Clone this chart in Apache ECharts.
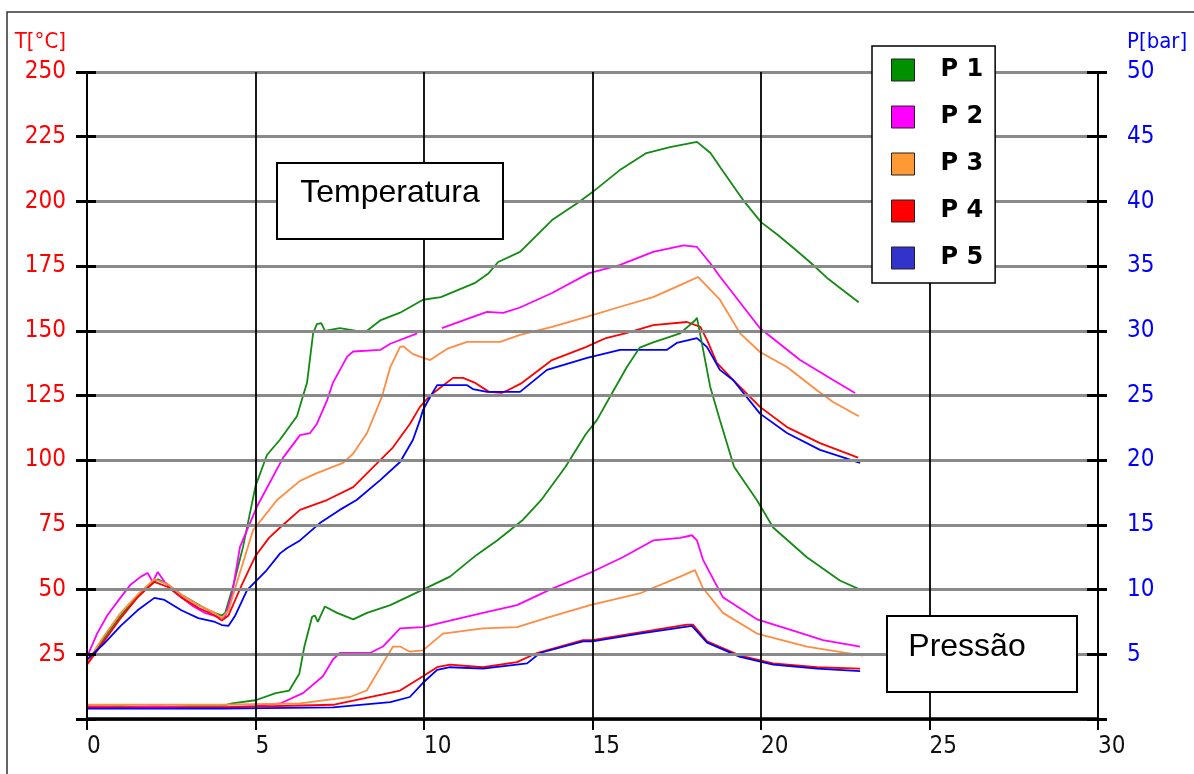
<!DOCTYPE html>
<html>
<head>
<meta charset="utf-8">
<script src="https://cdn.jsdelivr.net/npm/echarts@6/dist/echarts.min.js"></script>
<style>
html,body{margin:0;padding:0;background:#fff;}
#c{width:1194px;height:774px;}
</style>
</head>
<body>
<div id="c"></div>
<script>
// ---------- data (x = time, temperature in °C, pressure in bar) ----------
const seriesNames = ['P 1', 'P 2', 'P 3', 'P 4', 'P 5'];
const lineColors = ['#138a13', '#ff00ff', '#ff8c42', '#ff0000', '#0000ff'];
const legendColors = ['#009000', '#ff00ff', '#ff9933', '#ff0000', '#3333cc'];

const xTicks = [0, 5, 10, 15, 20, 25, 30];
const tTicks = [25, 50, 75, 100, 125, 150, 175, 200, 225, 250];
const pTicks = [5, 10, 15, 20, 25, 30, 35, 40, 45, 50];

const tempP1 = [[0,22],[0.3,27],[0.6,33],[1.0,40],[1.4,46],[1.8,51],[2.1,54],[2.4,52],[2.8,48],[3.2,45],[3.6,42],[4.0,40],[4.1,41],[4.35,52],[4.63,66.5],[5.0,90],[5.34,102],[5.73,108],[6.23,117],[6.53,130],[6.71,149],[6.82,152.6],[6.95,153],[7.06,150],[7.5,151],[8.0,150],[8.31,150],[8.7,154],[9.29,157],[9.97,162],[10.5,163],[11.0,165.7],[11.5,168.4],[11.9,172],[12.2,176.6],[12.85,180.5],[13.8,192.8],[14.6,199.8],[15.0,203.6],[15.8,212],[16.6,218.7],[17.3,221],[18.1,223],[18.5,218.7],[18.8,213],[19.5,200],[20.0,192],[20.5,187],[21.0,181.6],[21.5,176],[22.0,170],[22.5,165],[22.9,161]];
const tempP2 = [[0,24],[0.3,33],[0.6,40],[1.0,47],[1.3,52],[1.6,55],[1.8,56.4],[1.95,53],[2.1,56.8],[2.3,53],[2.7,48],[3.1,44],[3.5,41],[4.0,39],[4.1,39.5],[4.3,48],[4.54,66.5],[5.04,82],[5.82,101],[6.32,109.7],[6.62,110.5],[6.82,114],[7.12,123],[7.3,130],[7.72,140],[7.9,142],[8.7,142.6],[9.0,145],[9.8,149],[10.1,null],[10.53,151],[11.37,155],[11.87,157.3],[12.35,156.9],[12.85,159],[13.8,164.6],[14.9,172.3],[15.8,175.4],[16.8,180.5],[17.7,183],[18.1,182.4],[18.5,176],[18.78,171],[19.97,151],[21.16,138.7],[22.14,131],[22.79,126]];
const tempP3 = [[0,22],[0.5,32],[1.0,41],[1.5,48],[2.0,54],[2.4,52],[2.8,48],[3.3,44],[3.8,41],[4.0,39],[4.2,42],[4.5,55],[4.93,73],[5.64,84.6],[6.32,92],[6.82,95],[7.6,99],[7.9,102.6],[8.31,110.5],[8.75,124.5],[9.0,136],[9.29,143.8],[9.38,144],[9.67,141],[10.18,138.7],[10.68,143],[11.28,145.7],[12.26,145.7],[12.85,148.4],[13.8,151.5],[14.8,155.3],[15.8,159.2],[16.8,163],[17.8,168.8],[18.13,170.8],[18.28,168.8],[18.78,162],[19.38,149],[19.97,141.8],[20.77,136],[21.66,127],[22.14,122.5],[22.9,117]];
const tempP4 = [[0,21],[0.5,30],[1.0,39],[1.5,47],[2.0,53],[2.4,51],[2.8,47],[3.3,43],[3.8,40],[4.0,38],[4.2,40],[4.6,52],[5.0,63],[5.4,70],[5.73,74],[6.32,80.8],[7.12,84.6],[7.9,89.6],[8.5,97.4],[9.08,105],[9.58,114],[9.88,120.6],[10.18,125],[10.48,128],[10.86,131.8],[11.16,131.8],[11.5,130],[11.93,126.4],[12.3,126],[12.5,127.1],[12.9,129.8],[13.8,138.7],[14.8,143.7],[15.4,147.2],[16.0,149.1],[16.8,152.2],[17.8,153.4],[18.2,151.5],[18.4,146.4],[18.69,137.6],[19.17,131],[19.97,120.6],[20.77,112.8],[21.75,106.6],[22.88,101]];
const tempP5 = [[0,23],[0.5,29],[1.0,36],[1.5,42],[2.0,46.8],[2.3,46],[2.8,42],[3.3,39],[3.8,37.5],[4.0,36.3],[4.2,36],[4.4,40],[4.75,49.8],[5.3,57],[5.73,64],[5.93,66],[6.32,69],[6.91,75.7],[7.5,80.8],[8.0,84.6],[8.7,92.3],[9.29,99.3],[9.67,107.8],[9.88,115.5],[9.97,119.4],[10.18,124.4],[10.39,129],[11.28,129],[11.45,127.5],[11.87,126.4],[12.85,126.4],[13.65,134.9],[14.84,139.5],[15.82,142.6],[17.2,142.6],[17.5,145.3],[18.1,147.2],[18.4,143.7],[18.78,134.9],[19.17,131],[19.97,118],[20.77,110.5],[21.75,104],[22.94,99]];

const presP1 = [[0,0.95],[1,1.0],[2,0.9],[3,1.0],[4,1.0],[4.3,1.2],[5.0,1.45],[5.6,2.0],[6.0,2.2],[6.3,3.5],[6.45,5.6],[6.68,7.9],[6.76,8.0],[6.85,7.5],[7.06,8.7],[7.42,8.2],[7.9,7.7],[8.31,8.2],[9.0,8.8],[9.97,10],[10.77,11],[11.57,12.7],[12.17,13.8],[12.94,15.4],[13.5,17],[14.2,19.5],[14.8,22],[15.13,23.1],[15.52,24.9],[16.02,27.2],[16.4,28.7],[16.8,29.1],[17.6,29.8],[18.04,30.8],[18.1,31],[18.19,29.8],[18.49,25.7],[18.78,23.1],[19.2,19.5],[19.88,16.9],[20.36,14.8],[21.36,12.5],[22.34,10.7],[22.94,10]];
const presP2 = [[0,1.0],[1,0.9],[2,1.0],[3,0.9],[4,0.9],[5,1.0],[5.73,1.2],[6.41,2.0],[7.0,3.3],[7.3,4.6],[7.5,5.1],[8.4,5.1],[8.78,5.6],[9.29,7.0],[9.97,7.1],[10.77,7.6],[11.75,8.2],[12.76,8.8],[13.74,10],[14.93,11.3],[15.9,12.5],[16.8,13.8],[17.6,14.0],[17.95,14.2],[18.1,13.8],[18.28,12.3],[18.87,9.4],[19.88,7.7],[20.86,6.9],[21.84,6.1],[22.94,5.6]];
const presP3 = [[0,1.1],[2,1.1],[4,1.1],[6.32,1.2],[7.8,1.7],[8.3,2.2],[8.78,4.3],[9.08,5.6],[9.29,5.6],[9.58,5.2],[9.97,5.3],[10.56,6.6],[11.75,7.0],[12.76,7.1],[13.74,7.9],[14.93,8.8],[16.4,9.7],[17.6,11],[18.04,11.5],[18.28,10.1],[18.87,8.2],[19.88,6.6],[21.36,5.6],[23.03,4.9]];
const presP4 = [[0,0.9],[2,0.85],[4,0.9],[7.3,1.1],[8.78,1.9],[9.29,2.2],[9.97,3.3],[10.39,4.0],[10.77,4.2],[11.75,4.0],[12.76,4.4],[13.35,5.1],[14.72,6.1],[15.0,6.1],[16.4,6.7],[17.8,7.3],[17.98,7.3],[18.4,6.0],[19.38,4.9],[20.36,4.3],[21.66,4.0],[22.94,3.9]];
const presP5 = [[0,0.8],[2,0.8],[4,0.8],[7.3,0.9],[9.0,1.3],[9.58,1.7],[9.97,2.8],[10.39,3.8],[10.77,4.0],[11.75,3.9],[13.06,4.3],[13.44,5.1],[14.72,6.0],[15.0,6.0],[16.4,6.6],[17.95,7.2],[18.4,5.9],[19.38,4.8],[20.36,4.2],[21.66,3.9],[22.94,3.7]];

const tempData = [tempP1, tempP2, tempP3, tempP4, tempP5];
const presData = [presP1, presP2, presP3, presP4, presP5];

// ---------- chart ----------
const narrow = "'Liberation Sans Narrow','Arial Narrow','DejaVu Sans Condensed',sans-serif";
const chart = echarts.init(document.getElementById('c'), null, {renderer: 'canvas'});

const series = [];
seriesNames.forEach((n, i) => {
  series.push({
    name: n, type: 'line', xAxisIndex: 0, yAxisIndex: 0, data: tempData[i],
    showSymbol: false, connectNulls: false, z: 3,
    lineStyle: {color: lineColors[i], width: 1.8}, itemStyle: {color: lineColors[i]}
  });
});
seriesNames.forEach((n, i) => {
  series.push({
    name: n, type: 'line', xAxisIndex: 0, yAxisIndex: 1, data: presData[i],
    showSymbol: false, z: 3,
    lineStyle: {color: lineColors[i], width: 1.8}, itemStyle: {color: lineColors[i]}
  });
});

const option = {
  animation: false,
  backgroundColor: '#fff',
  grid: {left: 87, right: 96, top: 72, bottom: 55, containLabel: false},
  xAxis: [{
    type: 'value', min: 0, max: 30, interval: 5,
    axisLine: {show: true, lineStyle: {color: '#000', width: 3.5}},
    axisTick: {show: true, length: 11, lineStyle: {color: '#000', width: 2}},
    axisLabel: {color: '#111', fontFamily: narrow, fontSize: 24, margin: 16, align: 'left',
      formatter: v => xTicks.indexOf(v) >= 0 ? String(v) : ''},
    splitLine: {show: true, lineStyle: {color: '#000', width: 1.8}},
    z: 5
  }],
  yAxis: [{
    type: 'value', position: 'left', min: 0, max: 250, interval: 25,
    name: 'T[°C]', nameLocation: 'end', nameGap: 30,
    nameTextStyle: {color: '#ff0000', fontFamily: narrow, fontSize: 22, align: 'right', verticalAlign: 'middle', padding: [0, 21, 0, 0]},
    axisLine: {show: true, lineStyle: {color: '#000', width: 2}},
    axisTick: {show: true, length: 11, lineStyle: {color: '#000', width: 3}},
    axisLabel: {color: '#ff0000', fontFamily: narrow, fontSize: 24, margin: 21,
      formatter: v => tTicks.indexOf(v) >= 0 ? String(v) : ''},
    splitLine: {show: true, lineStyle: {color: '#8a8a8a', width: 3}},
    z: 4
  }, {
    type: 'value', position: 'right', min: 0, max: 50, interval: 5,
    name: 'P[bar]', nameLocation: 'end', nameGap: 30,
    nameTextStyle: {color: '#0000ff', fontFamily: narrow, fontSize: 22, align: 'left', verticalAlign: 'middle', padding: [0, 0, 0, 29]},
    axisLine: {show: true, lineStyle: {color: '#000', width: 2}},
    axisTick: {show: true, length: 9, lineStyle: {color: '#000', width: 3}},
    axisLabel: {color: '#0000ff', fontFamily: narrow, fontSize: 24, margin: 29,
      formatter: v => pTicks.indexOf(v) >= 0 ? String(v) : ''},
    splitLine: {show: false},
    z: 4
  }, {
    type: 'value', position: 'left', min: 0, max: 250, interval: 25,
    axisLine: {show: false},
    axisTick: {show: true, inside: true, length: 9, lineStyle: {color: '#000', width: 3}},
    axisLabel: {show: false}, splitLine: {show: false}, z: 4
  }, {
    type: 'value', position: 'right', min: 0, max: 50, interval: 5,
    axisLine: {show: false},
    axisTick: {show: true, inside: true, length: 11, lineStyle: {color: '#000', width: 3}},
    axisLabel: {show: false}, splitLine: {show: false}, z: 4
  }],
  legend: {
    show: true, orient: 'vertical', left: 872, top: 46,
    padding: [12, 12, 13, 19], itemGap: 23, itemWidth: 23, itemHeight: 22,
    backgroundColor: '#fff', borderColor: '#000', borderWidth: 1.5,
    icon: 'rect', selectedMode: false, z: 20,
    textStyle: {fontFamily: "'DejaVu Sans',Verdana,sans-serif", fontWeight: 'bold', fontSize: 24, color: '#000', padding: [2, 0, 0, 21], lineHeight: 22},
    data: seriesNames.map((n, i) => ({name: n, itemStyle: {color: legendColors[i], borderColor: '#222', borderWidth: 1}}))
  },
  graphic: [
    {type: 'rect', z: 0, silent: true,
      shape: {x: 7, y: 12, width: 1250, height: 820},
      style: {fill: null, stroke: '#333', lineWidth: 1.5}},
    {type: 'rect', z: 100, silent: true, shape: {x: 277, y: 163, width: 226, height: 76},
      style: {fill: '#fff', stroke: '#000', lineWidth: 2}},
    {type: 'text', z: 101, silent: true, x: 390, y: 193,
      style: {text: 'Temperatura', fill: '#000', font: "32px 'Liberation Sans', Arial, sans-serif", textAlign: 'center', textVerticalAlign: 'middle'}},
    {type: 'rect', z: 100, silent: true, shape: {x: 887, y: 616, width: 190, height: 76},
      style: {fill: '#fff', stroke: '#000', lineWidth: 2}},
    {type: 'text', z: 101, silent: true, x: 967, y: 647,
      style: {text: 'Pressão', fill: '#000', font: "32px 'Liberation Sans', Arial, sans-serif", textAlign: 'center', textVerticalAlign: 'middle'}}
  ],
  series: series
};
chart.setOption(option);
</script>
</body>
</html>
